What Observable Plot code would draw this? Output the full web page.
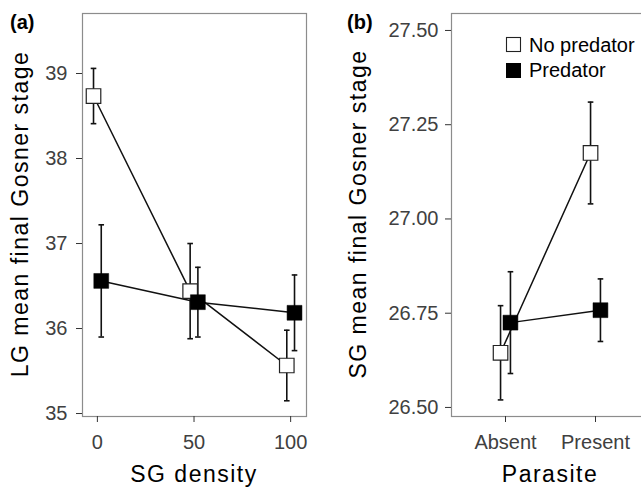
<!DOCTYPE html>
<html><head><meta charset="utf-8">
<script src="https://cdn.jsdelivr.net/npm/d3@7"></script>
<script src="https://cdn.jsdelivr.net/npm/@observablehq/plot@0.6"></script>
<style>
body{margin:0;background:#fff;}
#wrap{position:relative;width:641px;height:490px;overflow:hidden;background:#fff;font-family:"Liberation Sans",Arial,Helvetica,sans-serif;}
.pan{position:absolute;top:0;}
#over{position:absolute;left:0;top:0;pointer-events:none;}
</style></head><body><div id="wrap"></div>
<script>
// ---- data (panel a) ----
const groups = ["No predator", "Predator"];
const densities = [0, 50, 100];
const noPredA = [38.735, 36.44, 35.565];
const noPredAErr = [0.325, 0.56, 0.415];
const predA = [36.56, 36.31, 36.185];
const predAErr = [0.66, 0.41, 0.445];
const xTicksA = [0, 50, 100];
const yTicksA = [35, 36, 37, 38, 39];
// ---- data (panel b) ----
const parasite = ["Absent", "Present"];
const noPredB = [26.645, 27.175];
const noPredBErr = [0.125, 0.135];
const predB = [26.725, 26.758];
const predBErr = [0.135, 0.083];
const yTicksB = [26.5, 26.75, 27.0, 27.25, 27.5];

const FONT = '"Liberation Sans",Arial,Helvetica,sans-serif';

function rows(xs, a, ae, b, be) {
  const out = [];
  xs.forEach((x, i) => out.push({group: groups[0], x, y: a[i], err: ae[i]}));
  xs.forEach((x, i) => out.push({group: groups[1], x, y: b[i], err: be[i]}));
  return out;
}
const dataA = rows(densities, noPredA, noPredAErr, predA, predAErr);
const dataB = rows(parasite.map((p, i) => i + 1), noPredB, noPredBErr, predB, predBErr);

const capSym = {draw(ctx) { const w = 2.8; ctx.moveTo(-w, 0); ctx.lineTo(w, 0); }};

function panel({data, dodge, width, marginLeft, marginRight, xDomain, yDomain, xTicks, yTicks, xFmt, yFmt, yPad}) {
  const X = d => d.x + (d.group === groups[0] ? -dodge : dodge);
  const np = data.filter(d => d.group === groups[0]);
  const pr = data.filter(d => d.group === groups[1]);
  return Plot.plot({
    width, height: 490,
    marginLeft, marginRight, marginTop: 13, marginBottom: 74,
    x: {domain: xDomain},
    y: {domain: yDomain},
    style: {fontFamily: FONT, fontSize: "20px", color: "#404040", background: "transparent", overflow: "visible"},
    marks: [
      Plot.frame({stroke: "#8c8c8c", strokeWidth: 1.2}),
      Plot.axisY(yTicks, {tickSize: 6, tickPadding: yPad, label: null, tickFormat: yFmt, stroke: "#333"}),
      Plot.axisX(xTicks, {tickSize: 6, tickPadding: 12, label: null, tickFormat: xFmt, stroke: "#333"}),
      Plot.line(data, {x: X, y: "y", z: "group", stroke: "#111", strokeWidth: 1.5}),
      Plot.ruleX(data, {x: X, y1: d => d.y - d.err, y2: d => d.y + d.err, stroke: "#111", strokeWidth: 1.6}),
      Plot.dot(data, {x: X, y: d => d.y + d.err, symbol: capSym, r: 3, stroke: "#111", strokeWidth: 1.6, fill: "none"}),
      Plot.dot(data, {x: X, y: d => d.y - d.err, symbol: capSym, r: 3, stroke: "#111", strokeWidth: 1.6, fill: "none"}),
      Plot.dot(np, {x: X, y: "y", symbol: "square", r: 8.2, fill: "white", stroke: "#222", strokeWidth: 1.2}),
      Plot.dot(pr, {x: X, y: "y", symbol: "square", r: 8.4, fill: "black", stroke: "black", strokeWidth: 0.5})
    ]
  });
}

const wrap = document.getElementById("wrap");

const pa = panel({
  data: dataA, dodge: 2, width: 320, marginLeft: 82, marginRight: 14,
  xDomain: [-7.7, 108.2], yDomain: [34.965, 39.706],
  xTicks: xTicksA, yTicks: yTicksA, xFmt: d => String(d), yFmt: d => String(d), yPad: 9
});
pa.classList.add("pan"); pa.style.left = "0px";
wrap.appendChild(pa);

const pb = panel({
  data: dataB, dodge: 0.055, width: 335, marginLeft: 131, marginRight: 6,
  xDomain: [0.4, 2.6], yDomain: [26.476, 27.545],
  xTicks: [1, 2], yTicks: yTicksB, xFmt: i => parasite[i - 1], yFmt: d3.format(".2f"), yPad: 7
});
pb.classList.add("pan"); pb.style.left = "320px";
wrap.appendChild(pb);

// titles, panel tags and legend
const NS = "http://www.w3.org/2000/svg";
const over = document.createElementNS(NS, "svg");
over.setAttribute("id", "over");
over.setAttribute("width", 641); over.setAttribute("height", 490);
over.setAttribute("font-family", FONT);
function txt(s, attrs) {
  const t = document.createElementNS(NS, "text");
  for (const k in attrs) t.setAttribute(k, attrs[k]);
  t.textContent = s; over.appendChild(t); return t;
}
function rect(attrs) {
  const r = document.createElementNS(NS, "rect");
  for (const k in attrs) r.setAttribute(k, attrs[k]);
  over.appendChild(r);
}
txt("(a)", {x: 10, y: 29, "font-size": 20, "font-weight": "bold", fill: "#000"});
txt("(b)", {x: 347, y: 29, "font-size": 20, "font-weight": "bold", fill: "#000"});
txt("SG density", {x: 194, y: 482, "font-size": 23, "letter-spacing": 1.5, "text-anchor": "middle", fill: "#000"});
txt("Parasite", {x: 550, y: 482, "font-size": 23, "letter-spacing": 1.5, "text-anchor": "middle", fill: "#000"});
txt("LG mean final Gosner stage", {transform: "translate(28,214) rotate(-90)", "font-size": 23, "letter-spacing": 1.5, "text-anchor": "middle", fill: "#000"});
txt("SG mean final Gosner stage", {transform: "translate(366,214) rotate(-90)", "font-size": 23, "letter-spacing": 1.5, "text-anchor": "middle", fill: "#000"});
rect({x: 506.5, y: 37.5, width: 14, height: 14, fill: "white", stroke: "#222", "stroke-width": 1.1});
txt(groups[0], {x: 529, y: 52, "font-size": 20, fill: "#000"});
rect({x: 506, y: 63, width: 15, height: 15, fill: "black"});
txt(groups[1], {x: 529, y: 77, "font-size": 20, fill: "#000"});
wrap.appendChild(over);
</script>
</body></html>
